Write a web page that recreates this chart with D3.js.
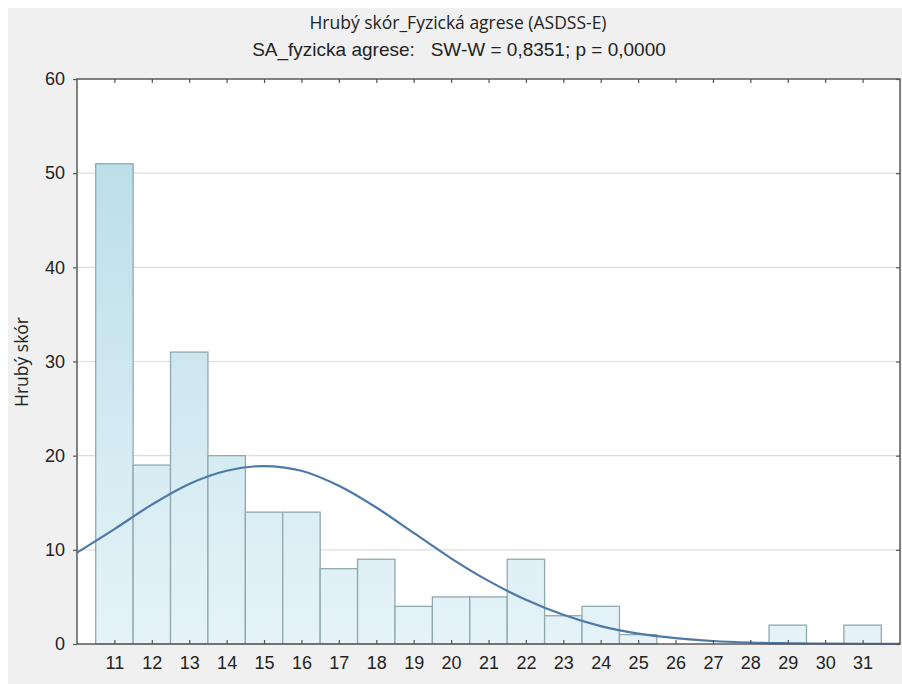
<!DOCTYPE html>
<html>
<head>
<meta charset="utf-8">
<script src="https://cdn.jsdelivr.net/npm/d3@7"></script>
<style>
  html, body { margin: 0; padding: 0; background: #ffffff; }
  svg { display: block; }
</style>
</head>
<body>
<script>
// ---- data ----
const categories = [11,12,13,14,15,16,17,18,19,20,21,22,23,24,25,26,27,28,29,30,31];
const counts     = [51,19,31,20,14,14, 8, 9, 4, 5, 5, 9, 3, 4, 1, 0, 0, 0, 2, 0, 2];
const curveX = [10,11,12,13,14,15,16,17,18,19,20,21,22,23,24,25,26,27,28,29,30,31,32];
const curveY = [9.7,12.2,14.8,17.0,18.4,18.9,18.4,16.8,14.5,11.8,9.1,6.7,4.7,3.1,1.9,1.1,0.62,0.32,0.16,0.08,0.035,0.014,0.005];
const yTicks = [0,10,20,30,40,50,60];
const titleText = "Hrubý skór_Fyzická agrese (ASDSS-E)";
const subtitleText = "SA_fyzicka agrese:   SW-W = 0,8351; p = 0,0000";
const yLabel = "Hrubý skór";

(function(){
const W = 902, H = 684;
const pL = 77, pR = 900, pT = 79, pB = 644;

const svg = d3.select("body").append("svg").attr("width", W).attr("height", H);

// background
svg.append("rect").attr("x",0).attr("y",0).attr("width",W).attr("height",H).attr("fill","#ffffff");
svg.append("rect").attr("x",8).attr("y",8).attr("width",W-8).attr("height",H-8).attr("fill","#f0f0f0");

const x = d3.scaleLinear().domain([10,32]).range([pL,pR]);
const y = d3.scaleLinear().domain([0,60]).range([pB,pT]);

// gradient
const defs = svg.append("defs");
const grad = defs.append("linearGradient").attr("id","barGrad")
  .attr("gradientUnits","userSpaceOnUse")
  .attr("x1",0).attr("y1",y(51)).attr("x2",0).attr("y2",pB);
grad.append("stop").attr("offset","0%").attr("stop-color","#bcdfea");
grad.append("stop").attr("offset","100%").attr("stop-color","#e6f3f8");

// plot area
svg.append("rect").attr("x",pL).attr("y",pT).attr("width",pR-pL).attr("height",pB-pT).attr("fill","#ffffff");

// grid
svg.append("g").selectAll("line").data(yTicks.filter(d=>d>0 && d<60)).join("line")
  .attr("x1",pL).attr("x2",pR).attr("y1",d=>y(d)).attr("y2",d=>y(d))
  .attr("stroke","#dedede").attr("stroke-width",1.2);

// bars
svg.append("g").selectAll("rect").data(categories.map((c,i)=>({c, v:counts[i]})).filter(d=>d.v>0)).join("rect")
  .attr("x",d=>x(d.c-0.5)).attr("width",d=>x(d.c+0.5)-x(d.c-0.5))
  .attr("y",d=>y(d.v)).attr("height",d=>y(0)-y(d.v))
  .attr("fill","url(#barGrad)").attr("stroke","#8fa9ae").attr("stroke-width",1.3);

// normal curve
const line = d3.line().x((d,i)=>x(curveX[i])).y(d=>y(d)).curve(d3.curveCatmullRom);
svg.append("path").datum(curveY).attr("d",line).attr("fill","none")
  .attr("stroke","#4d79a8").attr("stroke-width",2.2);

// frame
svg.append("rect").attr("x",pL).attr("y",pT).attr("width",pR-pL).attr("height",pB-pT)
  .attr("fill","none").attr("stroke","#5a5a5a").attr("stroke-width",1.5);

// axes
const tickFont = "Liberation Sans, Arial, sans-serif";
const yAxis = svg.append("g").attr("transform",`translate(${pL},0)`)
  .call(d3.axisLeft(y).tickValues(yTicks).tickSize(4).tickPadding(8).tickFormat(d3.format("d")));
const rightAxis = svg.append("g").attr("transform",`translate(${pR},0)`)
  .call(d3.axisLeft(y).tickValues(yTicks).tickSize(4).tickFormat(""));
const xAxis = svg.append("g").attr("transform",`translate(0,${pB})`)
  .call(d3.axisTop(x).tickValues(categories).tickSize(4).tickFormat(""));
const xLabels = svg.append("g").attr("transform",`translate(0,${pB})`)
  .call(d3.axisBottom(x).tickValues(categories).tickSize(0).tickPadding(12).tickFormat(d3.format("d")));
const topAxis = svg.append("g").attr("transform",`translate(0,${pT})`)
  .call(d3.axisBottom(x).tickValues(categories).tickSize(4).tickFormat(""));
[yAxis, rightAxis, xAxis, xLabels, topAxis].forEach(g=>{
  g.select(".domain").remove();
  g.selectAll(".tick line").attr("stroke","#555555").attr("stroke-width",1.2);
  g.selectAll("text").attr("font-family",tickFont).attr("font-size",18).attr("fill","#222222");
});

// titles
svg.append("text").attr("x",458).attr("y",29).attr("text-anchor","middle")
  .attr("font-family","Open Sans, sans-serif").attr("font-size",17.5).attr("fill","#222")
  .text(titleText);
svg.append("text").attr("x",459).attr("y",56).attr("text-anchor","middle")
  .attr("font-family","Liberation Sans, Arial, sans-serif").attr("font-size",19).attr("fill","#222")
  .attr("xml:space","preserve").style("white-space","pre")
  .text(subtitleText);
svg.append("text").attr("transform","translate(28,362) rotate(-90)").attr("text-anchor","middle")
  .attr("font-family","Open Sans, sans-serif").attr("font-size",17.5).attr("fill","#222")
  .text(yLabel);
})();
</script>
</body>
</html>
